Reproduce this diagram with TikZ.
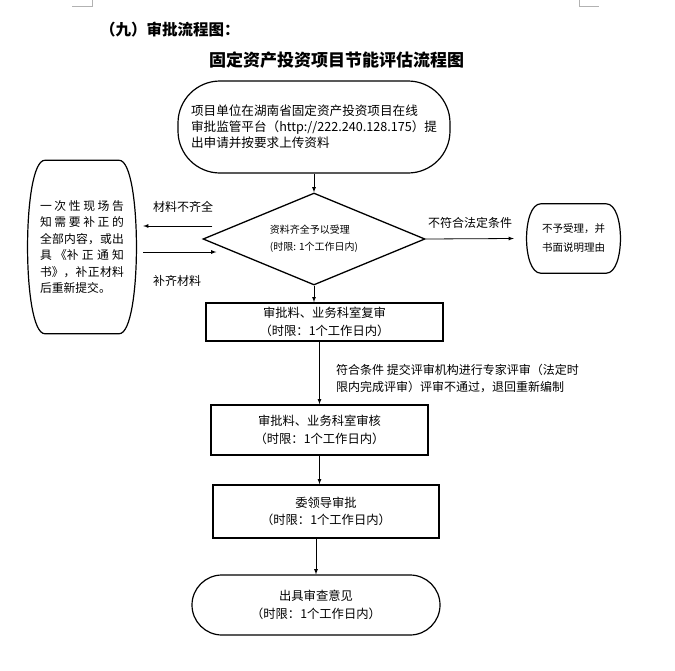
\documentclass[tikz,border=0pt]{standalone}
\usepackage{fontspec}
\setmainfont{Noto Sans CJK SC}
\usetikzlibrary{shapes.geometric}
\XeTeXlinebreaklocale "zh"
\XeTeXlinebreakskip=0pt plus 4pt
\tolerance=9999
\hbadness=10000

\begin{document}
\begin{tikzpicture}[x=1pt,y=-1pt]
    \tikzstyle{proc} = [draw, rectangle, line width=1.6pt, align=center, font=\fontsize{12.3}{17.5}\selectfont]
    \tikzstyle{term} = [draw, rectangle, line width=1.2pt, align=center, font=\fontsize{12.3}{17.5}\selectfont]
    \tikzstyle{decision} = [draw, diamond, line width=1.3pt, inner sep=0pt, align=left, font=\fontsize{10}{17}\selectfont]
    \tikzstyle{lbl} = [inner sep=0pt, font=\fontsize{12}{17}\selectfont]
    \tikzstyle{arrow} = [line width=0.8pt,->,>=latex]
    \useasboundingbox (0,0) rectangle (675,670);

    % page corner marks
    \draw [gray!60, line width=0.8pt] (72,6) -- (92,6) -- (92,0);
    \draw [gray!60, line width=0.8pt] (579,0) -- (579,6) -- (599,6);

    \node (head) [anchor=west, inner sep=0pt, font=\fontsize{15.5}{18}\selectfont\bfseries] at (100,30) {（九）审批流程图：};
    \node (caption) [inner sep=0pt, font=\fontsize{17}{20}\selectfont\bfseries] at (336.5,60) {固定资产投资项目节能评估流程图};

    \node (start) [term, rounded corners=42pt, minimum width=272pt, minimum height=92pt, align=left, font=\fontsize{12.6}{16}\selectfont] at (314,127)
        {项目单位在湖南省固定资产投资项目在线\\审批监管平台（http://222.240.128.175）提\\出申请并按要求上传资料};
    \node (check) [decision, minimum width=222pt, minimum height=92pt, aspect=2.41] at (314,239)
        {资料齐全予以受理\\(时限: 1个工作日内)};
    \node (supp) [minimum width=110pt, minimum height=173pt, inner sep=0pt, text width=84pt, align=justify, font=\fontsize{11.8}{16.4}\selectfont] at (82,247)
        {一次性现场告\linebreak 知需要补正的\linebreak 全部内容，或出\linebreak 具《补正通知\linebreak 书》，补正材料\linebreak 后重新提交。};
    \node (refuse) [minimum width=95pt, minimum height=69pt, inner sep=0pt, align=center, font=\fontsize{10.5}{19}\selectfont] at (573.5,238.5)
        {不予受理，并\\书面说明理由};
    \node (rev1) [proc, minimum width=237pt, minimum height=38pt] at (324.5,322) {审批料、业务科室复审\\（时限：1个工作日内）};
    \node (rev2) [proc, minimum width=217pt, minimum height=50pt] at (319.5,430) {审批料、业务科室审核\\（时限：1个工作日内）};
    \node (lead) [proc, minimum width=226pt, minimum height=53pt] at (326,511.5) {委领导审批\\（时限：1个工作日内）};
    \node (final) [term, rounded corners=30pt, minimum width=248pt, minimum height=60pt] at (316,605) {出具审查意见\\（时限：1个工作日内）};

    % curved outlines of the two side boxes
    \draw [line width=1.2pt] ([xshift=18pt]supp.north west) -- ([xshift=-18pt]supp.north east)
        .. controls ([xshift=5pt]supp.north east) and ([xshift=5pt]supp.south east) .. ([xshift=-18pt]supp.south east)
        -- ([xshift=18pt]supp.south west)
        .. controls ([xshift=-5pt]supp.south west) and ([xshift=-5pt]supp.north west) .. cycle;
    \draw [line width=1.2pt] ([xshift=15pt]refuse.north west) -- ([xshift=-15pt]refuse.north east)
        .. controls ([xshift=4pt]refuse.north east) and ([xshift=4pt]refuse.south east) .. ([xshift=-15pt]refuse.south east)
        -- ([xshift=15pt]refuse.south west)
        .. controls ([xshift=-4pt]refuse.south west) and ([xshift=-4pt]refuse.north west) .. cycle;

    \node (lack) [lbl] at (183,207) {材料不齐全};
    \node (fill) [lbl] at (177,281) {补齐材料};
    \node (reject) [lbl] at (470,223) {不符合法定条件};
    \node (expert) [lbl, anchor=west, align=left] at (336,378) {符合条件 提交评审机构进行专家评审（法定时\\限内完成评审）评审不通过，退回重新编制};

    \draw [arrow] (start.south) -- (check.north);
    \draw [arrow] ([xshift=10pt,yshift=13pt]check.west) -- ([xshift=6pt,yshift=21pt]supp.east);
    \draw [arrow] ([xshift=6pt,yshift=-5pt]supp.east) -- ([xshift=14pt,yshift=-13pt]check.west);
    \draw [arrow] (check.east) -- ([xshift=-12pt]refuse.west);
    \draw [arrow] (check.south) -- (check.south |- rev1.north);
    \draw [arrow] (rev1.south -| rev2.north) -- (rev2.north);
    \draw [arrow] (rev2.south) -- (rev2.south |- lead.north);
    \draw [arrow] (lead.south -| final.north) -- (final.north);
\end{tikzpicture}
\end{document}
